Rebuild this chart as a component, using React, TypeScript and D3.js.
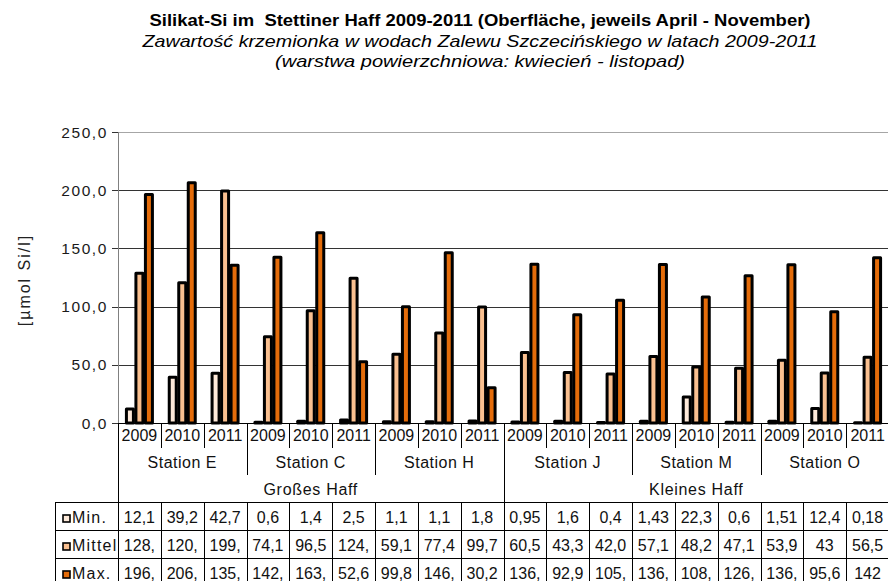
import React from 'react';
import * as d3 from 'd3';

const years = ['2009', '2010', '2011'];
const stations = ['Station E', 'Station C', 'Station H', 'Station J', 'Station M', 'Station O'];
const areas = ['Großes Haff', 'Kleines Haff'];
const seriesNames = ['Min.', 'Mittel', 'Max.'];
const minValues = [12.1, 39.2, 42.7, 0.6, 1.4, 2.5, 1.1, 1.1, 1.8, 0.95, 1.6, 0.4, 1.43, 22.3, 0.6, 1.51, 12.4, 0.18];
const meanValues = [128.6, 120.4, 199.3, 74.1, 96.5, 124.4, 59.1, 77.4, 99.7, 60.5, 43.3, 42.0, 57.1, 48.2, 47.1, 53.9, 43, 56.5];
const maxValues = [196.2, 206.3, 135.6, 142.4, 163.4, 52.6, 99.8, 146.2, 30.2, 136.3, 92.9, 105.4, 136.1, 108.3, 126.4, 136.0, 95.6, 142];
const minLabels = ['12,1', '39,2', '42,7', '0,6', '1,4', '2,5', '1,1', '1,1', '1,8', '0,95', '1,6', '0,4', '1,43', '22,3', '0,6', '1,51', '12,4', '0,18'];
const meanLabels = ['128,', '120,', '199,', '74,1', '96,5', '124,', '59,1', '77,4', '99,7', '60,5', '43,3', '42,0', '57,1', '48,2', '47,1', '53,9', '43', '56,5'];
const maxLabels = ['196,', '206,', '135,', '142,', '163,', '52,6', '99,8', '146,', '30,2', '136,', '92,9', '105,', '136,', '108,', '126,', '136,', '95,6', '142'];
const yTicks = [0, 50, 100, 150, 200, 250];
const titleLines = [
  'Silikat-Si im  Stettiner Haff 2009-2011 (Oberfläche, jeweils April - November)',
  'Zawartość krzemionka w wodach Zalewu Szczecińskiego w latach 2009-2011',
  '(warstwa powierzchniowa: kwiecień - listopad)',
];
const yLabel = '[µmol Si/l]';
const colors = ['#FDE9D9', '#FAC090', '#E46C0A'];

const W = 888;
const H = 581;
const FONT = '"Liberation Sans", Arial, sans-serif';

export default function App() {
  const series = [minValues, meanValues, maxValues];
  const labels = [minLabels, meanLabels, maxLabels];
  const cats = stations.flatMap((s) => years.map((y) => `${s}|${y}`));
  const stationsPerArea = stations.length / areas.length;

  const x = d3.scaleBand<string>().domain(cats).range([118, 889]).padding(0);
  const inner = d3
    .scaleBand<string>()
    .domain(seriesNames)
    .range([0, x.bandwidth()])
    .paddingInner(0)
    .paddingOuter(0.754);
  const barW = 7;
  const y = d3.scaleLinear().domain([0, 250]).range([423, 132]);
  const locale = d3.formatLocale({ decimal: ',', thousands: '.', grouping: [3], currency: ['', '€'] });
  const fmt = locale.format('.1f');

  const left = x.range()[0];
  const right = x.range()[1];
  const bw = x.bandwidth();
  const boundary = (i: number) => left + i * bw;
  const tableLeft = 55;
  const rowTops = [502, 530, 558, 586];

  const titleStyles = [
    { fontWeight: 'bold', fontStyle: 'normal', len: 661, yy: 26 },
    { fontWeight: 'normal', fontStyle: 'italic', len: 675, yy: 47 },
    { fontWeight: 'normal', fontStyle: 'italic', len: 410, yy: 67 },
  ];

  return (
    <svg
      width={W}
      height={H}
      style={{ position: 'absolute', left: 0, top: 0, background: '#fff' }}
      fontFamily={FONT}
    >
      <rect x={0} y={0} width={W} height={H} fill="#fff" />
      {titleLines.map((t, i) => (
        <text
          key={i}
          x={480}
          y={titleStyles[i].yy}
          textAnchor="middle"
          fontSize={17}
          fontWeight={titleStyles[i].fontWeight}
          fontStyle={titleStyles[i].fontStyle}
          textLength={titleStyles[i].len}
          lengthAdjust="spacingAndGlyphs"
          style={{ whiteSpace: 'pre' }}
          fill="#000"
        >
          {t}
        </text>
      ))}

      {/* gridlines */}
      {yTicks.map((t) => (
        <line
          key={t}
          x1={left}
          x2={right}
          y1={Math.round(y(t)) + 0.5}
          y2={Math.round(y(t)) + 0.5}
          stroke={t === 250 ? '#a6a6a6' : t === 0 ? '#000' : '#333'}
          strokeWidth={1}
        />
      ))}
      {/* y axis */}
      <line x1={left + 0.5} x2={left + 0.5} y1={y(250)} y2={y(0)} stroke="#808080" />
      {yTicks.map((t) => (
        <g key={'tk' + t}>
          <line x1={112} x2={left} y1={Math.round(y(t)) + 0.5} y2={Math.round(y(t)) + 0.5} stroke="#333" />
          <text
            x={108}
            y={y(t) + 5.5}
            textAnchor="end"
            fontSize={15.5}
            letterSpacing={1.6}
            fill="#1a1a1a"
          >
            {fmt(t)}
          </text>
        </g>
      ))}
      <text
        transform={`translate(30,${280}) rotate(-90)`}
        textAnchor="middle"
        fontSize={16}
        letterSpacing={2}
        fill="#222"
      >
        {yLabel}
      </text>

      {/* bars */}
      {cats.map((c, ci) => (
        <g key={c} transform={`translate(${x(c)},0)`}>
          {seriesNames.map((s, si) => {
            const v = series[si][ci];
            const top = y(v);
            return (
              <rect
                key={s}
                x={(inner(s) as number) + (inner.bandwidth() - barW) / 2}
                y={top}
                width={barW}
                height={Math.max(0, y(0) - top)}
                fill={colors[si]}
                stroke="#000"
                strokeWidth={3}
                strokeLinejoin="round"
              />
            );
          })}
        </g>
      ))}
      <line x1={left} x2={right} y1={423.5} y2={423.5} stroke="#000" strokeWidth={1.2} />

      {/* category axis separators */}
      {d3.range(0, cats.length + 1).map((i) => {
        let y2 = 448;
        if (i % years.length === 0) y2 = 475;
        if (i % (years.length * stationsPerArea) === 0) y2 = 502;
        if (i === 0) y2 = 586;
        return (
          <line
            key={'sep' + i}
            x1={Math.round(boundary(i)) + 0.5}
            x2={Math.round(boundary(i)) + 0.5}
            y1={423}
            y2={y2}
            stroke="#000"
          />
        );
      })}
      {cats.map((c, ci) => (
        <text
          key={'yr' + c}
          x={(x(c) as number) + bw / 2}
          y={441}
          textAnchor="middle"
          fontSize={16}
          fill="#111"
        >
          {years[ci % years.length]}
        </text>
      ))}
      {stations.map((s, i) => (
        <text
          key={s}
          x={boundary(i * years.length) + (bw * years.length) / 2}
          y={468}
          textAnchor="middle"
          fontSize={16}
          letterSpacing={0.5}
          fill="#111"
        >
          {s}
        </text>
      ))}
      {areas.map((a, i) => (
        <text
          key={a}
          x={boundary(i * years.length * stationsPerArea) + (bw * years.length * stationsPerArea) / 2}
          y={495}
          textAnchor="middle"
          fontSize={16}
          letterSpacing={0.7}
          fill="#111"
        >
          {a}
        </text>
      ))}

      {/* data table */}
      {rowTops.map((ry) => (
        <line key={'row' + ry} x1={tableLeft} x2={right} y1={ry + 0.5} y2={ry + 0.5} stroke="#000" />
      ))}
      <line x1={tableLeft + 0.5} x2={tableLeft + 0.5} y1={rowTops[0]} y2={rowTops[3]} stroke="#000" />
      {d3.range(1, cats.length + 1).map((i) => (
        <line
          key={'tv' + i}
          x1={Math.round(boundary(i)) + 0.5}
          x2={Math.round(boundary(i)) + 0.5}
          y1={rowTops[0]}
          y2={rowTops[3]}
          stroke="#000"
        />
      ))}
      {seriesNames.map((s, si) => (
        <g key={'leg' + s}>
          <rect
            x={63}
            y={rowTops[si] + 13}
            width={7}
            height={7}
            fill={colors[si]}
            stroke="#000"
            strokeWidth={1.6}
          />
          <text x={72} y={rowTops[si] + 21} fontSize={16} letterSpacing={1.2} fill="#111">
            {s}
          </text>
        </g>
      ))}
      {labels.map((row, si) =>
        row.map((lab, ci) => (
          <text
            key={'cell' + si + '-' + ci}
            x={(x(cats[ci]) as number) + bw / 2}
            y={rowTops[si] + 21}
            textAnchor="middle"
            fontSize={16}
            fill="#111"
          >
            {lab}
          </text>
        ))
      )}
    </svg>
  );
}
